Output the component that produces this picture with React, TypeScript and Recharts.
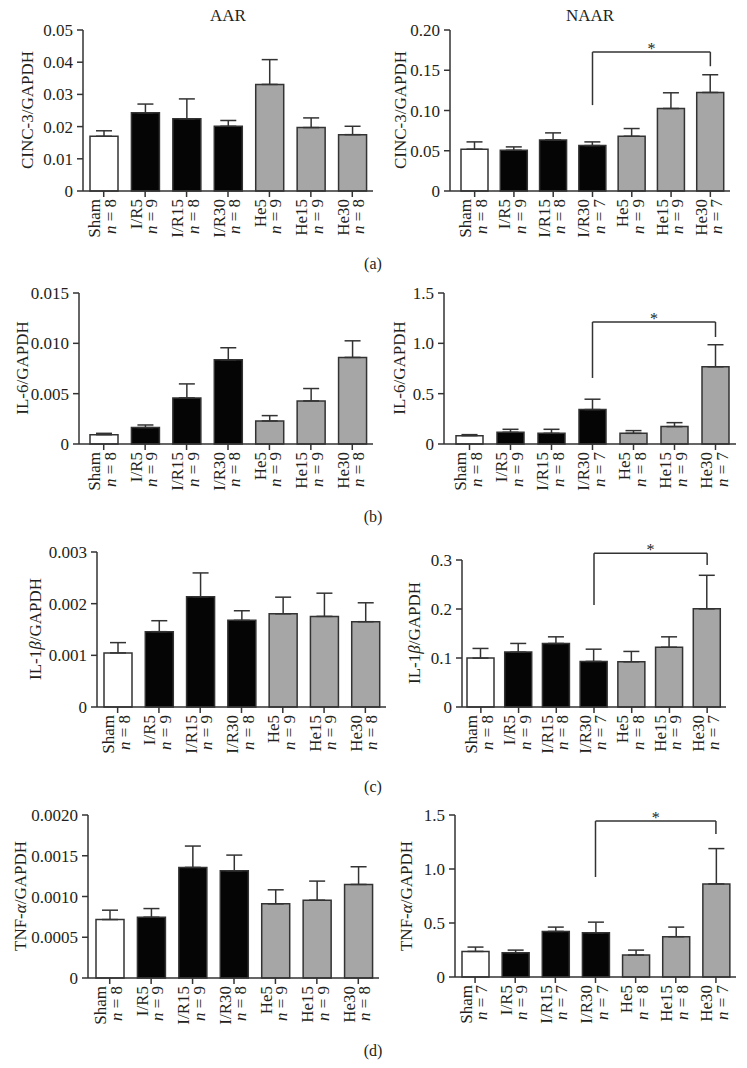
import React from 'react';
import { BarChart, Bar, XAxis, YAxis, Cell, ErrorBar, ReferenceLine } from 'recharts';

const FONT = "'Liberation Serif', 'Times New Roman', Times, serif";
const TEXT = '#231f20';
const LINE = '#333333';

const categories = ['Sham', 'I/R5', 'I/R15', 'I/R30', 'He5', 'He15', 'He30'];
const groups = ['sham', 'ir', 'ir', 'ir', 'he', 'he', 'he'];
const groupFill: Record<string, string> = { sham: '#ffffff', ir: '#050505', he: '#a6a6a6' };

// (a) CINC-3
const cinc3AarMean = [0.017, 0.0243, 0.0224, 0.0201, 0.0331, 0.0197, 0.0175];
const cinc3AarSem = [0.0017, 0.0027, 0.0062, 0.0018, 0.0077, 0.003, 0.0026];
const cinc3AarN = [8, 9, 8, 8, 9, 9, 8];
const cinc3AarTicks = [0, 0.01, 0.02, 0.03, 0.04, 0.05];
const cinc3AarTickLabels = ['0', '0.01', '0.02', '0.03', '0.04', '0.05'];

const cinc3NaarMean = [0.0519, 0.0506, 0.0635, 0.0564, 0.068, 0.1025, 0.1224];
const cinc3NaarSem = [0.0091, 0.0042, 0.0087, 0.0046, 0.0096, 0.0195, 0.022];
const cinc3NaarN = [8, 9, 8, 7, 9, 9, 7];
const cinc3NaarTicks = [0, 0.05, 0.1, 0.15, 0.2];
const cinc3NaarTickLabels = ['0', '0.05', '0.10', '0.15', '0.20'];

// (b) IL-6
const il6AarMean = [0.00093, 0.00163, 0.00458, 0.00836, 0.00229, 0.00428, 0.0086];
const il6AarSem = [0.00013, 0.00026, 0.00139, 0.0012, 0.00053, 0.00123, 0.00165];
const il6AarN = [8, 9, 9, 8, 9, 9, 8];
const il6AarTicks = [0, 0.005, 0.01, 0.015];
const il6AarTickLabels = ['0', '0.005', '0.010', '0.015'];

const il6NaarMean = [0.083, 0.116, 0.106, 0.342, 0.106, 0.173, 0.767];
const il6NaarSem = [0.01, 0.03, 0.04, 0.103, 0.027, 0.039, 0.219];
const il6NaarN = [8, 9, 8, 7, 8, 9, 7];
const il6NaarTicks = [0, 0.5, 1.0, 1.5];
const il6NaarTickLabels = ['0', '0.5', '1.0', '1.5'];

// (c) IL-1beta
const il1bAarMean = [0.001047, 0.001458, 0.002133, 0.001677, 0.001805, 0.001754, 0.001651];
const il1bAarSem = [0.000199, 0.000212, 0.000462, 0.000186, 0.000321, 0.000449, 0.000366];
const il1bAarN = [8, 9, 9, 8, 9, 9, 8];
const il1bAarTicks = [0, 0.001, 0.002, 0.003];
const il1bAarTickLabels = ['0', '0.001', '0.002', '0.003'];

const il1bNaarMean = [0.0998, 0.112, 0.1297, 0.093, 0.0923, 0.122, 0.2003];
const il1bNaarSem = [0.0197, 0.0177, 0.0135, 0.025, 0.0211, 0.0212, 0.0685];
const il1bNaarN = [8, 9, 8, 7, 8, 9, 7];
const il1bNaarTicks = [0, 0.1, 0.2, 0.3];
const il1bNaarTickLabels = ['0', '0.1', '0.2', '0.3'];

// (d) TNF-alpha
const tnfAarMean = [0.000717, 0.000746, 0.001357, 0.001316, 0.00091, 0.000955, 0.001148];
const tnfAarSem = [0.000115, 0.000106, 0.000262, 0.000192, 0.000172, 0.000234, 0.000217];
const tnfAarN = [8, 9, 9, 8, 9, 9, 8];
const tnfAarTicks = [0, 0.0005, 0.001, 0.0015, 0.002];
const tnfAarTickLabels = ['0', '0.0005', '0.0010', '0.0015', '0.0020'];

const tnfNaarMean = [0.237, 0.225, 0.422, 0.41, 0.203, 0.373, 0.862];
const tnfNaarSem = [0.04, 0.024, 0.04, 0.098, 0.046, 0.089, 0.327];
const tnfNaarN = [7, 9, 7, 7, 8, 8, 7];
const tnfNaarTicks = [0, 0.5, 1.0, 1.5];
const tnfNaarTickLabels = ['0', '0.5', '1.0', '1.5'];

// significance brackets (NAAR panels): I/R30 vs He30 — [top, left foot, right foot]
const bracketFrom = 'I/R30';
const bracketTo = 'He30';
const cinc3Bracket = [0.1726, 0.1067, 0.155];
const il6Bracket = [1.212, 0.656, 1.063];
const il1bBracket = [0.314, 0.208, 0.29];
const tnfBracket = [1.444, 0.926, 1.324];

type PanelCfg = {
  mean: number[];
  sem: number[];
  n: number[];
  ticks: number[];
  tickLabels: string[];
  bracket?: number[];
  chartX: number;
  chartW: number;
  axisX: number;
  axisEnd: number;
  top: number;
  zero: number;
  padL: number;
  barSize: number;
};

const MARGIN_TOP = 40;
const XAXIS_H = 66;

function XTick(props: any) {
  const { x, y, payload, nList } = props;
  const idx = payload.index;
  return (
    <g transform={`translate(${x},${y})`}>
      <text transform="rotate(-90)" textAnchor="end" fontFamily={FONT} fontSize={17} fill={TEXT}>
        <tspan x={0} y={-3.5}>{payload.value}</tspan>
        <tspan x={0} y={12}>
          <tspan fontStyle="italic">n</tspan>
          {` = ${nList[idx]}`}
        </tspan>
      </text>
    </g>
  );
}

function Panel({ cfg }: { cfg: PanelCfg }) {
  const data = categories.map((c, i) => ({
    cat: c,
    mean: cfg.mean[i],
    err: [0, cfg.sem[i]],
    group: groups[i],
  }));
  const height = cfg.zero - cfg.top + MARGIN_TOP + XAXIS_H;
  const maxTick = cfg.ticks[cfg.ticks.length - 1];
  return (
    <div style={{ position: 'absolute', left: cfg.chartX, top: cfg.top - MARGIN_TOP }}>
      <BarChart
        width={cfg.chartW}
        height={height}
        data={data}
        margin={{ top: MARGIN_TOP, right: cfg.chartX + cfg.chartW - cfg.axisEnd, bottom: 0, left: 0 }}
        barSize={cfg.barSize}
      >
        <XAxis
          dataKey="cat"
          interval={0}
          height={XAXIS_H}
          padding={{ left: cfg.padL, right: 0 }}
          axisLine={{ stroke: LINE, strokeWidth: 1.5 }}
          tickLine={{ stroke: LINE, strokeWidth: 1.5 }}
          tickSize={6}
          tick={(p: any) => <XTick {...p} nList={cfg.n} />}
        />
        <YAxis
          width={cfg.axisX - cfg.chartX}
          domain={[0, maxTick]}
          ticks={cfg.ticks}
          interval={0}
          tickFormatter={(v: number) => {
            const k = cfg.ticks.findIndex((t) => Math.abs(t - v) < 1e-9);
            return k >= 0 ? cfg.tickLabels[k] : String(v);
          }}
          axisLine={{ stroke: LINE, strokeWidth: 1.5 }}
          tickLine={{ stroke: LINE, strokeWidth: 1.5 }}
          tickSize={6}
          tickMargin={4}
          tick={{ fontSize: 17, fill: TEXT, fontFamily: FONT }}
        />
        <Bar dataKey="mean" isAnimationActive={false} stroke={LINE} strokeWidth={1.5}>
          {data.map((d, i) => (
            <Cell key={i} fill={groupFill[d.group]} />
          ))}
          <ErrorBar dataKey="err" direction="y" width={8} stroke={LINE} strokeWidth={1.5} isAnimationActive={false} />
        </Bar>
        {cfg.bracket && (
          <ReferenceLine
            segment={[
              { x: bracketFrom, y: cfg.bracket[0] },
              { x: bracketTo, y: cfg.bracket[0] },
            ]}
            stroke={LINE}
            strokeWidth={1.5}
            ifOverflow="visible"
            label={{ value: '*', position: 'top', offset: -2, fontSize: 16, fill: TEXT, fontFamily: FONT }}
          />
        )}
        {cfg.bracket && (
          <ReferenceLine
            segment={[
              { x: bracketFrom, y: cfg.bracket[1] },
              { x: bracketFrom, y: cfg.bracket[0] },
            ]}
            stroke={LINE}
            strokeWidth={1.5}
            ifOverflow="visible"
          />
        )}
        {cfg.bracket && (
          <ReferenceLine
            segment={[
              { x: bracketTo, y: cfg.bracket[2] },
              { x: bracketTo, y: cfg.bracket[0] },
            ]}
            stroke={LINE}
            strokeWidth={1.5}
            ifOverflow="visible"
          />
        )}
      </BarChart>
    </div>
  );
}

const panels: PanelCfg[] = [
  { mean: cinc3AarMean, sem: cinc3AarSem, n: cinc3AarN, ticks: cinc3AarTicks, tickLabels: cinc3AarTickLabels,
    chartX: 0, chartW: 373, axisX: 83, axisEnd: 373, top: 30, zero: 191, padL: 0, barSize: 28 },
  { mean: cinc3NaarMean, sem: cinc3NaarSem, n: cinc3NaarN, ticks: cinc3NaarTicks, tickLabels: cinc3NaarTickLabels, bracket: cinc3Bracket,
    chartX: 373, chartW: 374, axisX: 450, axisEnd: 730, top: 30, zero: 191, padL: 5, barSize: 27 },
  { mean: il6AarMean, sem: il6AarSem, n: il6AarN, ticks: il6AarTicks, tickLabels: il6AarTickLabels,
    chartX: 0, chartW: 373, axisX: 79, axisEnd: 373, top: 293, zero: 444, padL: 4, barSize: 28 },
  { mean: il6NaarMean, sem: il6NaarSem, n: il6NaarN, ticks: il6NaarTicks, tickLabels: il6NaarTickLabels, bracket: il6Bracket,
    chartX: 373, chartW: 374, axisX: 444, axisEnd: 736, top: 293, zero: 444, padL: 5, barSize: 27 },
  { mean: il1bAarMean, sem: il1bAarSem, n: il1bAarN, ticks: il1bAarTicks, tickLabels: il1bAarTickLabels,
    chartX: 0, chartW: 400, axisX: 97, axisEnd: 386, top: 552, zero: 707, padL: 0, barSize: 28 },
  { mean: il1bNaarMean, sem: il1bNaarSem, n: il1bNaarN, ticks: il1bNaarTicks, tickLabels: il1bNaarTickLabels, bracket: il1bBracket,
    chartX: 373, chartW: 374, axisX: 462, axisEnd: 726, top: 560, zero: 707, padL: 0, barSize: 27 },
  { mean: tnfAarMean, sem: tnfAarSem, n: tnfAarN, ticks: tnfAarTicks, tickLabels: tnfAarTickLabels,
    chartX: 0, chartW: 395, axisX: 88, axisEnd: 379, top: 815, zero: 978, padL: 1, barSize: 28 },
  { mean: tnfNaarMean, sem: tnfNaarSem, n: tnfNaarN, ticks: tnfNaarTicks, tickLabels: tnfNaarTickLabels, bracket: tnfBracket,
    chartX: 373, chartW: 374, axisX: 455, axisEnd: 736, top: 815, zero: 977, padL: 0, barSize: 27 },
];

function YLabel({ x, y, children }: { x: number; y: number; children: React.ReactNode }) {
  return (
    <text x={x} y={y} transform={`rotate(-90 ${x} ${y})`} textAnchor="middle" fontFamily={FONT} fontSize={17} fill={TEXT}>
      {children}
    </text>
  );
}

export default function App() {
  return (
    <div style={{ position: 'absolute', left: 0, top: 0, width: 747, height: 1068, background: '#fff', overflow: 'hidden' }}>
      {panels.map((p, i) => (
        <Panel key={i} cfg={p} />
      ))}
      <svg width={747} height={1068} style={{ position: 'absolute', left: 0, top: 0, pointerEvents: 'none' }}>
        <text x={228} y={21} textAnchor="middle" fontFamily={FONT} fontSize={17} fill={TEXT}>AAR</text>
        <text x={590} y={21} textAnchor="middle" fontFamily={FONT} fontSize={17} fill={TEXT}>NAAR</text>

        <YLabel x={33} y={110}>CINC-3/GAPDH</YLabel>
        <YLabel x={406} y={110}>CINC-3/GAPDH</YLabel>
        <YLabel x={28} y={368}>IL-6/GAPDH</YLabel>
        <YLabel x={405} y={368}>IL-6/GAPDH</YLabel>
        <YLabel x={41} y={629}>IL-1<tspan fontStyle="italic">β</tspan>/GAPDH</YLabel>
        <YLabel x={420} y={633}>IL-1<tspan fontStyle="italic">β</tspan>/GAPDH</YLabel>
        <YLabel x={26} y={896}>TNF-<tspan fontStyle="italic">α</tspan>/GAPDH</YLabel>
        <YLabel x={412} y={896}>TNF-<tspan fontStyle="italic">α</tspan>/GAPDH</YLabel>

        <text x={373} y={269} textAnchor="middle" fontFamily={FONT} fontSize={16} fill={TEXT}>(a)</text>
        <text x={373} y={522} textAnchor="middle" fontFamily={FONT} fontSize={16} fill={TEXT}>(b)</text>
        <text x={373} y={792} textAnchor="middle" fontFamily={FONT} fontSize={16} fill={TEXT}>(c)</text>
        <text x={373} y={1056} textAnchor="middle" fontFamily={FONT} fontSize={16} fill={TEXT}>(d)</text>
      </svg>
    </div>
  );
}
